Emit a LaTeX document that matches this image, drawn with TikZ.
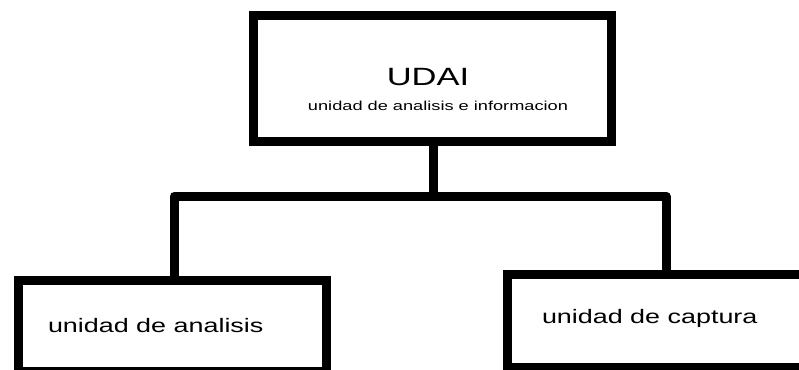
\documentclass[tikz,border=0pt]{standalone}
\usepackage{fontspec}
\setmainfont{Liberation Sans}
\begin{document}
\begin{tikzpicture}[x=1pt,y=-1pt,
  boxst/.style={draw=black,line width=9pt,fill=white,inner sep=0pt,outer sep=0pt,rectangle},
  conn/.style={draw=black,line width=9pt,line join=round},
  lbl/.style={inner sep=0pt,outer sep=0pt,text=black}]
\useasboundingbox (0,0) rectangle (799,369);
\clip (0,0) rectangle (799,369);
\fill[white] (0,0) rectangle (799,369);
% boxes
\node[boxst,minimum width=358pt,minimum height=125pt] (top) at (432,78.5) {};
\node[boxst,minimum width=308pt,minimum height=90.5pt] (left) at (172,325.75) {};
\node[boxst,minimum width=323pt,minimum height=93pt] (right) at (668.5,320.5) {};
% connectors
\coordinate (lc) at (174,196);
\coordinate (rc) at (666,196);
\draw[conn] (left.north -| lc) -- (lc) -- (rc) -- (right.north -| rc);
\draw[conn] (top.south -| 433,0) -- (433,196);
% texts
\node[lbl,anchor=base] (udai) at (428,85) {\scalebox{1.38}[1]{\fontsize{25}{25}\selectfont UDAI}};
\node[lbl,anchor=base] (sub) at (438,110) {\scalebox{1.4}[1]{\fontsize{13}{13}\selectfont unidad de analisis e informacion}};
\node[lbl,anchor=base west] (ltxt) at (48,332) {\scalebox{1.38}[1]{\fontsize{19.5}{19.5}\selectfont unidad de analisis}};
\node[lbl,anchor=base west] (rtxt) at (542,323) {\scalebox{1.38}[1]{\fontsize{19.5}{19.5}\selectfont unidad de captura}};
\end{tikzpicture}
\end{document}
